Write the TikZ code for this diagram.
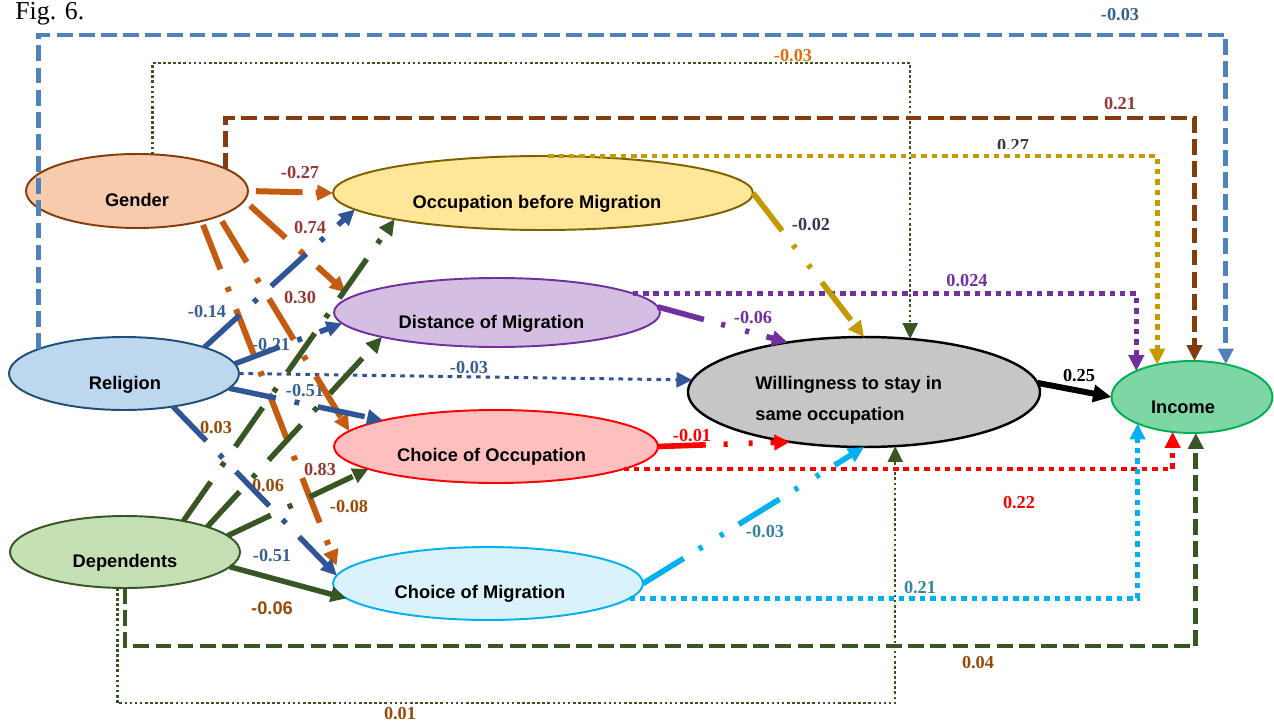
\documentclass[tikz,border=0pt]{standalone}
\usepackage{fontspec}
\setmainfont{Liberation Serif}
\setsansfont{Liberation Sans}
\usetikzlibrary{shapes.geometric,arrows.meta}
\definecolor{bG}{HTML}{843C0C}\definecolor{fG}{HTML}{F8CBAD}
\definecolor{bO}{HTML}{7F6000}\definecolor{fO}{HTML}{FFE699}
\definecolor{bDm}{HTML}{7030A0}\definecolor{fDm}{HTML}{D4BEE2}
\definecolor{bR}{HTML}{1F4E79}\definecolor{fR}{HTML}{BDD7EE}
\definecolor{bD}{HTML}{375623}\definecolor{fD}{HTML}{C5E0B4}
\definecolor{bCo}{HTML}{FF0000}\definecolor{fCo}{HTML}{FFBFBF}
\definecolor{bCm}{HTML}{00B0F0}\definecolor{fCm}{HTML}{DAF2FC}
\definecolor{fW}{HTML}{C6C6C6}
\definecolor{bI}{HTML}{00B050}\definecolor{fI}{HTML}{7ED6A5}
\definecolor{cBlueD}{HTML}{4F81BD}\definecolor{cBrown}{HTML}{843C0C}
\definecolor{cGold}{HTML}{C49A00}\definecolor{cPurple}{HTML}{7030A0}
\definecolor{cGreen}{HTML}{375623}\definecolor{cRed}{HTML}{FF0000}
\definecolor{cCyan}{HTML}{00B0F0}\definecolor{cOrange}{HTML}{C55A11}
\definecolor{cRel}{HTML}{2F5597}
\definecolor{lDkRed}{HTML}{953735}\definecolor{lBlue}{HTML}{376092}
\definecolor{lBrown}{HTML}{984807}\definecolor{lOrange}{HTML}{E46C0A}
\definecolor{lDkPurp}{HTML}{403152}\definecolor{lTeal}{HTML}{31859C}
\tikzset{
  ell/.style={ellipse, draw, line width=1.1pt, inner sep=0pt, outer sep=0pt},
  ntext/.style={font=\sffamily\bfseries\fontsize{10.4}{12}\selectfont, inner sep=0pt, anchor=base},
  lab/.style={font=\bfseries\fontsize{10.4}{12}\selectfont, inner sep=0pt},
  arr/.style={-{Triangle[length=9pt,width=8.5pt]}},
  fan/.style={arr, line width=3.1pt, dash pattern=on 27.2pt off 10.8pt on 2.8pt off 10.8pt},
  ddot/.style={arr, line width=3.2pt, dash pattern=on 27.2pt off 10.2pt on 2.3pt off 11.9pt on 2.3pt off 10.2pt},
  thickdot/.style={arr, line width=2.7pt, dash pattern=on 3.1pt off 2.8pt},
  bigdash/.style={arr, line width=2.8pt, dash pattern=on 9pt off 3.6pt},
  thindot/.style={arr, line width=1.4pt, dash pattern=on 1.5pt off 1.4pt},
}
\begin{document}
\begin{tikzpicture}[x=0.02cm,y=-0.02cm]
\useasboundingbox (0,0) rectangle (1274,723);
\node[font=\fontsize{14.7}{16}\selectfont, anchor=base west, inner sep=0pt] (fig) at (15,20) {Fig. 6.};

% ellipses
\node[ell, fill=fG, draw=bG, minimum width=4.44cm, minimum height=1.48cm] (G) at (137,191) {};
\node[ell, fill=fO, draw=bO, minimum width=8.4cm, minimum height=1.48cm] (OBM) at (543,193) {};
\node[ell, fill=fDm, draw=bDm, minimum width=6.52cm, minimum height=1.38cm] (DoM) at (497,312.5) {};
\node[ell, fill=fR, draw=bR, minimum width=4.6cm, minimum height=1.46cm] (R) at (124,373.5) {};
\node[ell, fill=fW, draw=black, line width=1.4pt, minimum width=7.04cm, minimum height=2.2cm] (W) at (864,392) {};
\node[ell, fill=fI, draw=bI, minimum width=3.22cm, minimum height=1.44cm] (I) at (1192,397) {};
\node[ell, fill=fCo, draw=bCo, minimum width=6.48cm, minimum height=1.46cm] (CoO) at (496,446.5) {};
\node[ell, fill=fD, draw=bD, minimum width=4.6cm, minimum height=1.44cm] (D) at (125,552) {};
\node[ell, fill=fCm, draw=bCm, minimum width=6.2cm, minimum height=1.46cm] (CoM) at (488,583.5) {};

% node texts
\node[ntext] (Gt) at (137,206) {Gender};
\node[ntext] (OBMt) at (537,208) {Occupation before Migration};
\node[ntext] (DoMt) at (491.5,328) {Distance of Migration};
\node[ntext] (Rt) at (125,389) {Religion};
\node[ntext] (Dt) at (125,567) {Dependents};
\node[ntext] (CoOt) at (491.5,461) {Choice of Occupation};
\node[ntext] (CoMt) at (480,598) {Choice of Migration};
\node[ntext] (It) at (1183,413) {Income};
\node[ntext, anchor=base west] (Wt1) at (755,389) {Willingness to stay in};
\node[ntext, anchor=base west] (Wt2) at (755,420) {same occupation};

% level coordinates
\coordinate (yA) at (0,35);
\coordinate (yB) at (0,63);
\coordinate (yC) at (0,118);
\coordinate (yD) at (0,646);
\coordinate (yE) at (0,703);

% labels
\node[lab, text=lBlue] (l1) at (1120,15) {-0.03};
\node[lab, text=lOrange] (l2) at (793,56) {-0.03};
\node[lab, text=lDkRed] (l3) at (1120,104) {0.21};
\begin{scope}
\clip (980,128) rectangle (1050,148);
\node[lab, text=lDkPurp] (l4) at (1013,146) {0.27};
\end{scope}
\node[lab, text=lDkPurp] (l5) at (811,225) {-0.02};
\node[lab, text=cPurple] (l6) at (967,281) {0.024};
\node[lab, text=cPurple] (l7) at (753,318) {-0.06};
\node[lab, text=black] (l8) at (1079,376) {0.25};
\node[lab, text=cRed] (l9) at (692,436) {-0.01};
\node[lab, text=cRed] (l10) at (1019,503) {0.22};
\node[lab, text=lTeal] (l11) at (765,532) {-0.03};
\node[lab, text=lTeal] (l12) at (920,588) {0.21};
\node[lab, text=lBrown] (l13) at (978,663) {0.04};
\node[lab, text=lBrown] (l14) at (400,714) {0.01};
\node[lab, text=lDkRed] (l15) at (300,173) {-0.27};
\node[lab, text=lDkRed] (l16) at (310,228) {0.74};
\node[lab, text=lDkRed] (l17) at (300,298) {0.30};
\node[lab, text=lBlue] (l18) at (207,312) {-0.14};
\node[lab, text=lBlue] (l19) at (271,345) {-0.21};
\node[lab, text=lBlue] (l20) at (469,368) {-0.03};
\node[lab, text=lBlue] (l21) at (305,391) {-0.51};
\node[lab, text=lBrown] (l22) at (216,428) {0.03};
\node[lab, text=lDkRed] (l23) at (320,470) {0.83};
\node[lab, text=lBrown] (l24) at (268,486) {0.06};
\node[lab, text=lBrown] (l25) at (349,507) {-0.08};
\node[lab, text=lBlue] (l26) at (272,556) {-0.51};
\node[lab, font=\sffamily\bfseries\fontsize{10.4}{12}\selectfont, text=lBrown] (l27) at (272,608) {-0.06};

% long routed connectors
\draw[bigdash, cBlueD] (R.164.6) |- (I.44.8 |- yA) -- (I.44.8);
\draw[thindot, cGreen] (G.67.8) |- (W.49.8 |- yB) -- (W.49.8);
\draw[bigdash, cBrown] (G.14.8) |- (I.86.8 |- yC) -- (I.86.8);
\draw[thickdot, cGold] (OBM.82) -| (I.137.2);
\draw[thickdot, cPurple] (DoM.8.2) -| (I.155.2);
\draw[thindot, cGreen] (D.-102.6) |- (W.-60.2 |- yE) -- (W.-60.2);
\draw[bigdash, cGreen] (D.-90) |- (I.-84.4 |- yD) -- (I.-84.4);
\draw[thickdot, cRed] (CoO.-10.9) -| (I.-119.8);
\draw[thickdot, cCyan] (CoM.-6.5) -| (I.-154.4);

% into Willingness
\draw[arr, cRel, line width=1.7pt, dash pattern=on 2.6pt off 2.8pt] (R.east) -- (W.176.7);
\draw[ddot, cGold] (OBM.east) -- (W.north);
\draw[ddot, cPurple] (DoM.2) -- (W.147.7);
\draw[ddot, cRed] (CoO.east) -- (W.-146);
\draw[ddot, cCyan] (CoM.east) -- (W.south);
\draw[arr, black, line width=3.4pt, -{Triangle[length=10.5pt,width=9.5pt]}] (W.3) -- (I.west);

% Gender fan
\draw[arr, cOrange, line width=3.4pt, dash pattern=on 26.6pt off 7.4pt, shorten <=4.5pt] (G.east) -- (OBM.west);
\draw[fan, cOrange, line width=3.4pt, shorten <=4.5pt, shorten >=4pt] (G.-5) -- (DoM.174);
\draw[fan, cOrange, line width=3.4pt, shorten <=3.5pt] (G.-17.4) -- (CoO.174.3);
\draw[fan, cOrange, line width=3.4pt, shorten <=2.3pt, shorten >=4.5pt] (G.-25.9) -- (CoM.176);

% Religion fan
\draw[fan, cRel] (R.18.1) -- (OBM.185.7);
\draw[fan, cRel] (R.5.5) -- (DoM.184.9);
\draw[fan, cRel] (R.-8.7) -- (CoO.167.1);
\draw[fan, cRel] (R.-34.7) -- (CoM.177);

% Dependents fan
\draw[fan, cGreen] (D.28.8) -- (OBM.190.4);
\draw[fan, cGreen] (D.17.9) -- (DoM.192.3);
\draw[fan, cGreen] (D.9.2) -- (CoO.190.3);
\draw[arr, cGreen, line width=3.1pt] (D.-8) -- (CoM.186.5);
\end{tikzpicture}
\end{document}
